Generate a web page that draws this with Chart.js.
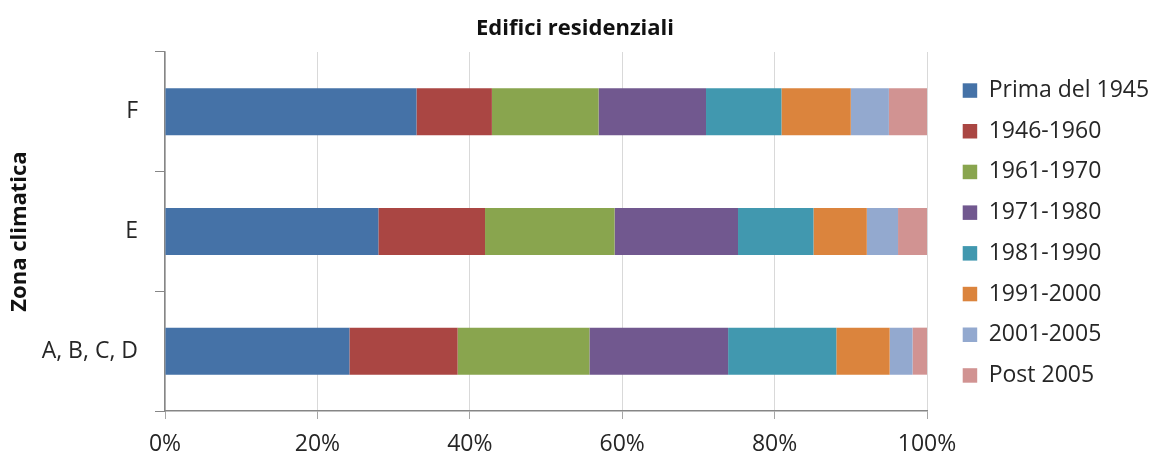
<!DOCTYPE html>
<html>
<head>
<meta charset="utf-8">
<script src="https://cdn.jsdelivr.net/npm/chart.js@4"></script>
<style>
  html, body { margin: 0; padding: 0; background: #fff; }
  #wrap { width: 1150px; height: 456px; }
</style>
</head>
<body>
<div id="wrap"><canvas id="c" width="1150" height="456"></canvas></div>
<script>
// Climate zones (rows, top to bottom)
const zones = ['F', 'E', 'A, B, C, D'];

// Share of residential buildings by construction period (%)
const prima1945 = [33.0, 28.0, 24.2];
const p1946_1960 = [9.9, 14.0, 14.2];
const p1961_1970 = [14.0, 17.0, 17.3];
const p1971_1980 = [14.1, 16.2, 18.2];
const p1981_1990 = [9.9, 9.9, 14.2];
const p1991_2000 = [9.1, 7.0, 7.0];
const p2001_2005 = [5.0, 4.1, 3.0];
const post2005 = [5.0, 3.8, 1.9];

const periodLabels = ['Prima del 1945', '1946-1960', '1961-1970', '1971-1980',
                      '1981-1990', '1991-2000', '2001-2005', 'Post 2005'];
const periodValues = [prima1945, p1946_1960, p1961_1970, p1971_1980,
                      p1981_1990, p1991_2000, p2001_2005, post2005];
const periodColors = ['#4572A7', '#AA4643', '#89A54E', '#71588F',
                      '#4198AF', '#DB843D', '#93A9CF', '#D19392'];

// Percentage tick labels on the value axis
const xTickValues = [0, 20, 40, 60, 80, 100];
const xTickLabels = ['0%', '20%', '40%', '60%', '80%', '100%'];

const FONT = "'Open Sans', 'DejaVu Sans', sans-serif";
const TEXT = '#262626';

// Legend column: fixed width, entries set a little away from the plot
const LEGEND_WIDTH = 223;
const LEGEND_SHIFT_X = 18;
const LEGEND_SHIFT_Y = 5;
const legendGap = {
  id: 'legendGap',
  beforeLayout(chart) {
    const lg = chart.legend;
    if (lg && !lg._fixedWidth) {
      const baseFit = lg.fit.bind(lg);
      lg.fit = function () { baseFit(); this.width = LEGEND_WIDTH; };
      lg._fixedWidth = true;
    }
  },
  afterLayout(chart) {
    const lg = chart.legend;
    if (lg) {
      lg.left += LEGEND_SHIFT_X; lg.right += LEGEND_SHIFT_X;
      lg.top += LEGEND_SHIFT_Y; lg.bottom += LEGEND_SHIFT_Y;
    }
  }
};

const datasets = periodLabels.map((label, i) => ({
  label: label,
  data: periodValues[i],
  backgroundColor: periodColors[i],
  borderWidth: 0,
  categoryPercentage: 1.0,
  barPercentage: 0.393
}));

new Chart(document.getElementById('c'), {
  type: 'bar',
  data: { labels: zones, datasets: datasets },
  plugins: [legendGap],
  options: {
    indexAxis: 'y',
    responsive: false,
    animation: false,
    layout: { padding: 0 },
    plugins: {
      title: {
        display: true,
        text: 'Edifici residenziali',
        color: '#111',
        font: { family: FONT, size: 22, weight: 'bold' },
        padding: { top: 16, bottom: 9.6 }
      },
      legend: {
        position: 'right',
        align: 'center',
        labels: {
          color: TEXT,
          font: { family: FONT, size: 23 },
          boxWidth: 14.5,
          boxHeight: 14.5,
          padding: 17.7
        }
      },
      tooltip: { enabled: false }
    },
    scales: {
      x: {
        stacked: true,
        min: 0,
        max: 100,
        afterBuildTicks: (axis) => {
          axis.ticks = xTickValues.map(v => ({ value: v }));
        },
        afterFit: (axis) => { axis.height = 45; },
        ticks: {
          color: TEXT,
          font: { family: FONT, size: 23 },
          padding: 12,
          maxRotation: 0,
          callback: (v) => xTickLabels[xTickValues.indexOf(v)]
        },
        grid: {
          color: '#D9D9D9',
          tickColor: '#A6A6A6',
          tickLength: 8,
          drawTicks: true
        },
        border: { color: '#868686', width: 1.5 }
      },
      y: {
        stacked: true,
        afterFit: (axis) => { axis.width = 165; },
        ticks: {
          color: TEXT,
          font: { family: FONT, size: 23 },
          padding: 17
        },
        grid: {
          offset: true,
          drawOnChartArea: false,
          drawTicks: true,
          tickLength: 10,
          tickColor: '#868686'
        },
        border: { color: '#868686', width: 1.5 },
        title: {
          display: true,
          text: 'Zona climatica',
          color: '#111',
          font: { family: FONT, size: 22, weight: 'bold' },
          padding: { top: 7, bottom: 8 }
        }
      }
    }
  }
});
</script>
</body>
</html>
